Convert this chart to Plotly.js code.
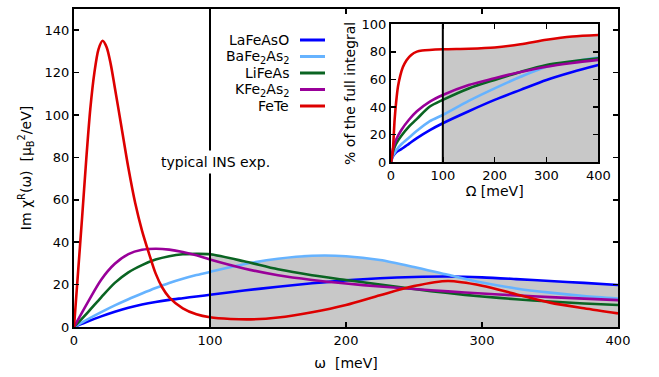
<!DOCTYPE html>
<html>
<head>
<meta charset="utf-8">
<script src="https://cdn.plot.ly/plotly-3.0.1.min.js"></script>
<style>html,body{margin:0;padding:0;background:#fff;}#chart{width:659px;height:377px;}</style>
</head>
<body>
<div id="chart"></div>
<script>
// ---- data ----
const seriesNames = ["LaFeAsO", "BaFe<sub>2</sub>As<sub>2</sub>", "LiFeAs", "KFe<sub>2</sub>As<sub>2</sub>", "FeTe"];
const seriesColors = ["#0000ff", "#66b3ff", "#0a6422", "#990099", "#dd0000"];

const omega = [0, 10, 20, 30, 40, 50, 60, 70, 80, 90, 100, 125, 150, 175, 200, 225, 250, 275, 300, 325, 350, 375, 400];
const imLaFeAsO = [0, 2.6, 5.0, 7.2, 9.1, 10.6, 11.8, 12.8, 13.6, 14.4, 15.2, 17.2, 19.0, 20.6, 22.0, 23.0, 23.6, 23.8, 23.4, 22.6, 21.7, 20.8, 19.8];
const imBaFe2As2 = [0, 3.6, 7.0, 10.2, 13.1, 15.8, 18.4, 20.8, 22.8, 24.5, 26.0, 29.6, 32.2, 33.6, 33.4, 31.6, 28.3, 24.6, 21.0, 18.2, 16.2, 14.6, 13.4];
const imLiFeAs = [0, 6.8, 14.0, 20.8, 25.8, 29.2, 31.8, 33.4, 34.3, 34.5, 34.3, 31.0, 27.2, 24.4, 22.2, 20.0, 17.9, 16.0, 14.4, 13.1, 12.0, 11.1, 10.4];
const imKFe2As2 = [0, 11.5, 22.3, 29.8, 34.4, 36.4, 36.9, 36.5, 35.4, 33.8, 31.8, 27.6, 24.4, 22.2, 20.5, 19.1, 17.9, 16.8, 15.8, 14.9, 14.1, 13.4, 12.7];
const omegaFeTe = [0, 3, 6, 9, 12, 15, 18, 21, 24, 27, 30, 35, 40, 45, 50, 55, 60, 65, 70, 80, 90, 100, 115, 130, 150, 175, 200, 225, 250, 275, 300, 325, 350, 375, 400];
const imFeTe = [0, 26, 52, 79, 103, 120, 131, 135, 132, 124, 113, 94, 75, 58.5, 45.5, 35, 25.3, 18.5, 14, 8.8, 6, 4.6, 3.8, 3.6, 4.5, 7.0, 10.4, 15.0, 19.3, 21.7, 19.5, 15.5, 11.5, 8.8, 6.4];

const bigOmega = [0, 2, 5, 10, 20, 35, 50, 75, 100, 150, 200, 250, 300, 350, 400];
const intLaFeAsO = [0, 2.8, 5.0, 7.3, 9.5, 13.5, 17.5, 23.3, 28.3, 37.0, 45.2, 52.5, 59.7, 65.5, 70.5];
const intBaFe2As2 = [0, 3.5, 5.5, 8.8, 13.1, 18.0, 22.8, 29.8, 34.3, 44.5, 53.6, 62.0, 69.3, 73.0, 76.0];
const intLiFeAs = [0, 5.0, 9.0, 13.5, 19.2, 26.0, 31.5, 40.4, 45.2, 53.5, 59.7, 65.5, 70.5, 73.2, 75.4];
const intKFe2As2 = [0, 6.0, 11.5, 16.5, 23.4, 31.0, 37.0, 44.0, 48.8, 56.0, 60.9, 65.5, 69.3, 72.0, 74.2];
const bigOmegaFeTe = [0, 2, 4, 7, 10, 13.5, 18, 23, 30, 39, 50, 60, 100, 150, 200, 250, 300, 350, 400];
const intFeTe = [0, 4, 11, 31, 44, 55, 63, 69, 74, 77.8, 80.2, 81, 81.9, 82.3, 83.2, 85.5, 88.8, 91.2, 92.3];

const insCut = 100;   // typical INS window boundary (meV)
const xTicks = [0, 100, 200, 300, 400];
const yTicksMain = [0, 20, 40, 60, 80, 100, 120, 140];
const yTicksInset = [0, 20, 40, 60, 80, 100];

const mainX = [omega, omega, omega, omega, omegaFeTe];
const mainY = [imLaFeAsO, imBaFe2As2, imLiFeAs, imKFe2As2, imFeTe];
const insetX = [bigOmega, bigOmega, bigOmega, bigOmega, bigOmegaFeTe];
const insetY = [intLaFeAsO, intBaFe2As2, intLiFeAs, intKFe2As2, intFeTe];

const FONT = "DejaVu Sans, Arial, sans-serif";
const GRAY = "#c8c8c8";

function above(xs, ys, cut) {
  const ox = [], oy = [];
  xs.forEach((v, i) => { if (v >= cut) { ox.push(v); oy.push(ys[i]); } });
  return {x: ox, y: oy};
}

const traces = [];
// gray shading of the region beyond the INS window (union of areas under curves)
for (let i = 0; i < 5; i++) {
  const a = above(mainX[i], mainY[i], insCut);
  traces.push({x: a.x, y: a.y, type: "scatter", mode: "lines", fill: "tozeroy",
    fillcolor: GRAY, line: {width: 0, shape: "spline", smoothing: 0.8}, hoverinfo: "skip",
    showlegend: false, xaxis: "x", yaxis: "y"});
}
for (let i = 0; i < 5; i++) {
  const a = above(insetX[i], insetY[i], insCut);
  traces.push({x: a.x, y: a.y, type: "scatter", mode: "lines", fill: "tozeroy",
    fillcolor: GRAY, line: {width: 0, shape: "spline", smoothing: 0.8}, hoverinfo: "skip",
    showlegend: false, xaxis: "x2", yaxis: "y2"});
}
// curves
for (let i = 0; i < 5; i++) {
  traces.push({x: mainX[i], y: mainY[i], type: "scatter", mode: "lines", name: seriesNames[i],
    line: {color: seriesColors[i], width: 2.6, shape: "spline", smoothing: 0.8},
    showlegend: false, xaxis: "x", yaxis: "y"});
}
for (let i = 0; i < 5; i++) {
  traces.push({x: insetX[i], y: insetY[i], type: "scatter", mode: "lines", name: seriesNames[i],
    line: {color: seriesColors[i], width: 2.6, shape: "spline", smoothing: 0.8},
    showlegend: false, xaxis: "x2", yaxis: "y2"});
}

// geometry
const W = 659, H = 377, L = 74, R = 41, T = 9, B = 50;
const pw = W - L - R, ph = H - T - B;
const px = v => (v - L) / pw;
const py = v => (H - B - v) / ph;

const shapes = [
  {type: "line", xref: "x", yref: "y", x0: insCut, x1: insCut, y0: 0, y1: 150, line: {color: "#000", width: 2}, layer: "above"},
  {type: "line", xref: "x2", yref: "y2", x0: insCut, x1: insCut, y0: 0, y1: 100, line: {color: "#000", width: 2}, layer: "above"}
];
const annotations = [
  {xref: "x", yref: "y", x: 104, y: 78, text: "typical INS exp.", showarrow: false,
   font: {family: FONT, size: 14, color: "#000"}, bgcolor: "#fff", borderpad: 3}
];
// custom legend: labels to the left of line samples
const legRows = [40, 56.5, 73, 89.5, 106];
for (let i = 0; i < 5; i++) {
  annotations.push({xref: "paper", yref: "paper", x: px(291), y: py(legRows[i]), xanchor: "right", yanchor: "middle",
    text: seriesNames[i], showarrow: false, font: {family: FONT, size: 14, color: "#000"}});
  shapes.push({type: "line", xref: "paper", yref: "paper", x0: px(300), x1: px(325), y0: py(legRows[i]), y1: py(legRows[i]),
    line: {color: seriesColors[i], width: 3}});
}

const axBase = {showline: true, linecolor: "#000", linewidth: 2, mirror: "ticks", ticks: "inside",
  ticklen: 5, tickwidth: 1.5, tickcolor: "#000", showgrid: false, zeroline: false,
  tickfont: {family: FONT, size: 13, color: "#000"}};

const layout = {
  width: W, height: H,
  margin: {l: L, r: R, t: T, b: B, pad: 0},
  paper_bgcolor: "#fff", plot_bgcolor: "#fff",
  showlegend: false,
  font: {family: FONT, color: "#000"},
  xaxis: Object.assign({}, axBase, {domain: [0, 1], range: [0, 400], tickvals: xTicks, anchor: "y",
    title: {text: "ω\u00a0 [meV]", font: {family: FONT, size: 14}, standoff: 12}}),
  yaxis: Object.assign({}, axBase, {domain: [0, 1], range: [0, 150], tickvals: yTicksMain, anchor: "x",
    title: {text: "Im χ<sup>R</sup>(ω)\u00a0 [μ<sub>B</sub><sup>2</sup>/eV]", font: {family: FONT, size: 14}, standoff: 10}}),
  xaxis2: Object.assign({}, axBase, {domain: [px(391), px(598.3)], range: [0, 400], tickvals: xTicks, anchor: "y2",
    title: {text: "Ω [meV]", font: {family: FONT, size: 14}, standoff: 4}}),
  yaxis2: Object.assign({}, axBase, {domain: [py(162.3), py(24.3)], range: [0, 100], tickvals: yTicksInset, anchor: "x2",
    title: {text: "% of the full integral", font: {family: FONT, size: 14}, standoff: 3}}),
  shapes: shapes,
  annotations: annotations
};

Plotly.newPlot("chart", traces, layout, {staticPlot: true, displayModeBar: false});
</script>
</body>
</html>
